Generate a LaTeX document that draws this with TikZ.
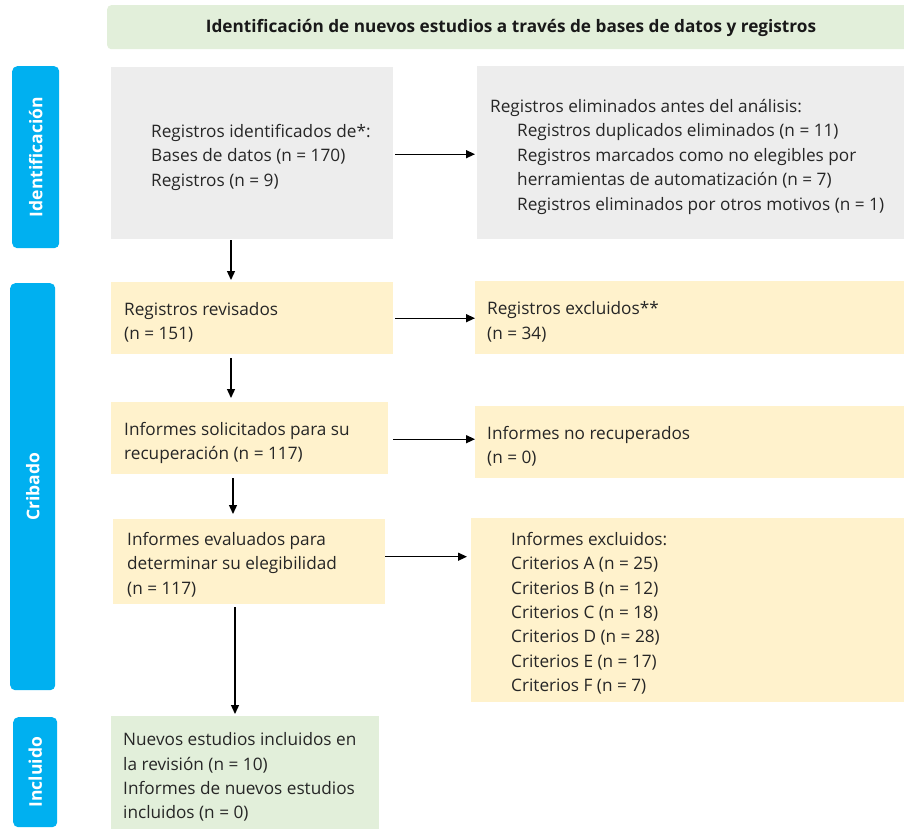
\documentclass[tikz,border=0pt]{standalone}
\usepackage{fontspec}
\setmainfont{Open Sans}
\usetikzlibrary{arrows.meta,calc}
\definecolor{grayfill}{HTML}{EDEDED}
\definecolor{yelfill}{HTML}{FFF2CC}
\definecolor{grnfill}{HTML}{E2EFDA}
\definecolor{bluefill}{HTML}{00B0F0}
\tikzset{
  panel/.style={rectangle, draw=none, anchor=north west, inner sep=0pt},
  txt/.style={anchor=west, align=left, inner sep=0pt, text=black!85,
    font=\fontsize{17.2}{24.4}\selectfont},
  phase/.style={rectangle, rounded corners=5pt, fill=bluefill, anchor=north west, inner sep=0pt},
  phasetxt/.style={rotate=90, text=white, font=\bfseries\fontsize{17.5}{20}\selectfont, inner sep=0pt},
  arr/.style={-{Triangle[length=9pt,width=8pt]}, line width=1.3pt, black},
}
\begin{document}
\begin{tikzpicture}[x=1pt,y=-1pt]
\useasboundingbox (0,0) rectangle (904,829);
% title
\node[panel, fill=grnfill, rounded corners=4pt, minimum width=820, minimum height=44] (title) at (107,5) {};
\node[inner sep=0pt, font=\bfseries\fontsize{17.2}{20}\selectfont, text=black!90] (titlet) at (511,28) {Identificación de nuevos estudios a través de bases de datos y registros};
% phases
\node[phase, minimum width=47, minimum height=182] (ph1) at (12,66) {};
\node[phasetxt] (ph1t) at (ph1.center) {Identificación};
\node[phase, minimum width=45, minimum height=407] (ph2) at (10,283) {};
\node[phasetxt] (ph2t) at (ph2.center) {Cribado};
\node[phase, minimum width=44, minimum height=110] (ph3) at (13,717) {};
\node[phasetxt] (ph3t) at (ph3.center) {Incluido};
% boxes
\node[panel, fill=grayfill, minimum width=282, minimum height=172] (ident) at (111,67) {};
\node[txt] (identt) at ([xshift=40,yshift=-4]ident.west) {Registros identificados de*:\\Bases de datos (n = 170)\\Registros (n = 9)};
\node[panel, fill=grayfill, minimum width=440, minimum height=173] (elim) at (477,66) {};
\node[txt] (elimt) at ([xshift=13,yshift=-4]elim.west) {Registros eliminados antes del análisis:\\
\hspace*{27pt}Registros duplicados eliminados (n = 11)\\
\hspace*{27pt}Registros marcados como no elegibles por\\
\hspace*{27pt}herramientas de automatización (n = 7)\\
\hspace*{27pt}Registros eliminados por otros motivos (n = 1)};
\node[panel, fill=yelfill, minimum width=282, minimum height=72] (rev) at (111,282) {};
\node[txt] (revt) at ([xshift=13,yshift=-4]rev.west) {Registros revisados\\(n = 151)};
\node[panel, fill=yelfill, minimum width=440, minimum height=73] (excl) at (475,281) {};
\node[txt] (exclt) at ([xshift=12,yshift=-4]excl.west) {Registros excluidos**\\(n = 34)};
\node[panel, fill=yelfill, minimum width=277, minimum height=72] (sol) at (111,402) {};
\node[txt] (solt) at ([xshift=13,yshift=-5]sol.west) {Informes solicitados para su\\recuperación (n = 117)};
\node[panel, fill=yelfill, minimum width=440, minimum height=72] (norec) at (475,406) {};
\node[txt] (norect) at ([xshift=12,yshift=-4]norec.west) {Informes no recuperados\\(n = 0)};
\node[panel, fill=yelfill, minimum width=272, minimum height=85] (eva) at (113,519) {};
\node[txt] (evat) at ([xshift=14,yshift=-3]eva.west) {Informes evaluados para\\determinar su elegibilidad\\(n = 117)};
\node[panel, fill=yelfill, minimum width=440, minimum height=184] (exc2) at (471,518) {};
\node[txt] (exc2t) at ([xshift=40,yshift=-3]exc2.west) {Informes excluidos:\\Criterios A (n = 25)\\Criterios B (n = 12)\\Criterios C (n = 18)\\Criterios D (n = 28)\\Criterios E (n = 17)\\Criterios F (n = 7)};
\node[panel, fill=grnfill, minimum width=268, minimum height=120] (inc) at (111,716) {};
\node[txt] (inct) at ([xshift=12,yshift=-1]inc.west) {Nuevos estudios incluidos en\\la revisión (n = 10)\\Informes de nuevos estudios\\incluidos (n = 0)};
% vertical arrows
\draw[arr, shorten <=1pt, shorten >=2pt] ([xshift=120]ident.south west) -- ([xshift=120]rev.north west);
\draw[arr, shorten <=4pt, shorten >=4pt] ([xshift=120]rev.south west) -- ([xshift=120]sol.north west);
\draw[arr, shorten <=4pt, shorten >=5pt] ([xshift=122]sol.south west) -- ([xshift=120]eva.north west);
\draw[arr, shorten <=3pt, shorten >=2pt] ([xshift=122]eva.south west) -- ([xshift=124]inc.north west);
% horizontal arrows
\draw[arr, shorten <=2pt, shorten >=2pt] ([yshift=-1]ident.east) -- ([yshift=-1]ident.east -| elim.west);
\draw[arr, shorten <=2pt, shorten >=0pt] (rev.east) -- (rev.east -| excl.west);
\draw[arr, shorten <=5pt, shorten >=0pt] ([yshift=-1]sol.east) -- ([yshift=-1]sol.east -| norec.west);
\draw[arr, shorten <=0pt, shorten >=4pt] ([yshift=5]eva.east) -- ([yshift=5]eva.east -| exc2.west);
\end{tikzpicture}
\end{document}
